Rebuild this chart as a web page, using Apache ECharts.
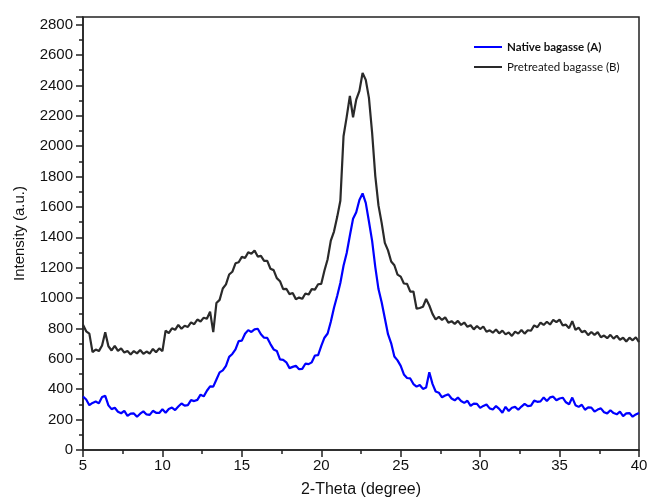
<!DOCTYPE html>
<html>
<head>
<meta charset="utf-8">
<script src="https://cdn.jsdelivr.net/npm/echarts@6/dist/echarts.min.js"></script>
<style>
  html, body { margin: 0; padding: 0; background: #fff; }
  #chart { width: 648px; height: 499px; }
</style>
</head>
<body>
<div id="chart"></div>
<script>
// 2-theta scan from 5 to 40 degrees, sampled every 0.2 degree
const thetaStart = 5
const thetaStep = 0.2

const xTicks = [5, 10, 15, 20, 25, 30, 35, 40]
const yTicks = [0, 200, 400, 600, 800, 1000, 1200, 1400, 1600, 1800, 2000, 2200, 2400, 2600, 2800]

const seriesNames = ['Native bagasse (A)', 'Pretreated bagasse (B)']

// Native bagasse (A)
const nativeA = [
  352, 332, 295, 310, 319, 307, 349, 356, 294, 269,
  278, 252, 242, 257, 225, 240, 241, 219, 239, 254,
  234, 231, 258, 245, 244, 268, 245, 270, 279, 263,
  286, 306, 292, 295, 328, 322, 330, 364, 353, 390,
  419, 417, 464, 511, 524, 554, 613, 632, 662, 717,
  720, 765, 789, 777, 794, 798, 762, 739, 738, 697,
  662, 652, 597, 593, 577, 539, 547, 554, 532, 534,
  568, 565, 577, 622, 625, 685, 739, 767, 844, 936,
  1014, 1099, 1213, 1297, 1412, 1522, 1565, 1645, 1689, 1627,
  1504, 1376, 1204, 1059, 973, 867, 762, 702, 615, 590,
  554, 497, 474, 471, 434, 417, 428, 402, 412, 512,
  435, 385, 377, 347, 359, 366, 339, 327, 345, 322,
  310, 324, 291, 305, 304, 277, 290, 299, 274, 267,
  289, 271, 245, 284, 257, 278, 284, 265, 286, 304,
  289, 292, 325, 317, 320, 346, 323, 346, 351, 327,
  339, 344, 314, 301, 345, 295, 284, 298, 265, 280,
  279, 253, 266, 274, 249, 241, 262, 243, 235, 252,
  223, 241, 243, 219, 234, 244
]

// Pretreated bagasse (B)
const pretreatedB = [
  824, 781, 766, 644, 661, 651, 688, 775, 683, 655,
  685, 653, 669, 641, 651, 629, 651, 636, 658, 633,
  648, 635, 665, 643, 669, 651, 786, 769, 801, 791,
  823, 798, 818, 810, 840, 828, 859, 846, 871, 864,
  911, 776, 968, 988, 1063, 1090, 1155, 1173, 1229, 1236,
  1271, 1264, 1301, 1291, 1313, 1273, 1278, 1245, 1245, 1193,
  1184, 1131, 1111, 1059, 1061, 1026, 1033, 993, 1003, 995,
  1030, 1023, 1059, 1056, 1091, 1094, 1181, 1256, 1378, 1438,
  1533, 1640, 2065, 2193, 2330, 2190, 2306, 2364, 2481, 2436,
  2318, 2088, 1803, 1610, 1495, 1363, 1314, 1241, 1216, 1154,
  1141, 1096, 1093, 1043, 1043, 930, 935, 943, 994, 951,
  896, 859, 876, 856, 873, 838, 848, 830, 850, 823,
  839, 811, 821, 794, 816, 796, 813, 778, 788, 772,
  793, 768, 786, 761, 774, 751, 779, 766, 790, 766,
  788, 785, 820, 808, 839, 823, 844, 826, 856, 841,
  858, 820, 825, 802, 848, 791, 806, 776, 784, 756,
  777, 758, 776, 742, 753, 736, 758, 733, 752, 726,
  739, 714, 739, 722, 742, 710
]

function toPairs(values) {
  return values.map((v, i) => [+(thetaStart + i * thetaStep).toFixed(1), v])
}

const chart = echarts.init(document.getElementById('chart'), null, { renderer: 'canvas' })

const axisFont = 'Liberation Sans, Arial, sans-serif'

const option = {
  animation: false,
  backgroundColor: '#fff',
  grid: {
    left: 83,
    right: 9,
    top: 17,
    bottom: 49,
    outerBoundsMode: 'none',
    show: true,
    borderColor: '#222',
    borderWidth: 1.5
  },
  legend: {
    orient: 'vertical',
    left: 469,
    top: 36,
    itemWidth: 28,
    itemHeight: 2,
    itemGap: 8,
    icon: 'rect',
    textStyle: {
      fontFamily: 'Lato, Open Sans, sans-serif',
      fontSize: 11.5,
      color: '#111'
    },
    data: [
      { name: seriesNames[0], textStyle: { fontWeight: 'bold' } },
      { name: seriesNames[1], textStyle: { fontWeight: 'normal' } }
    ]
  },
  xAxis: {
    type: 'value',
    min: xTicks[0],
    max: xTicks[xTicks.length - 1],
    interval: 5,
    name: '2-Theta (degree)',
    nameLocation: 'middle',
    nameGap: 32,
    nameTextStyle: { fontFamily: axisFont, fontSize: 16, color: '#111' },
    axisLine: { lineStyle: { color: '#222', width: 1.5 } },
    axisTick: { show: true, inside: false, length: 7, lineStyle: { color: '#222', width: 1.5 } },
    minorTick: { show: true, splitNumber: 2, length: 4, lineStyle: { color: '#222', width: 1.5 } },
    axisLabel: { fontFamily: axisFont, fontSize: 15, color: '#111', margin: 8 },
    splitLine: { show: false }
  },
  yAxis: {
    type: 'value',
    min: yTicks[0],
    max: 2850,
    interval: 200,
    name: 'Intensity (a.u.)',
    nameLocation: 'middle',
    nameGap: 56,
    nameTextStyle: { fontFamily: axisFont, fontSize: 15, color: '#111' },
    axisLine: { show: true, lineStyle: { color: '#222', width: 1.5 } },
    axisTick: { show: true, inside: false, length: 7, lineStyle: { color: '#222', width: 1.5 } },
    minorTick: { show: true, splitNumber: 2, length: 4, lineStyle: { color: '#222', width: 1.5 } },
    axisLabel: {
      fontFamily: axisFont,
      fontSize: 15,
      color: '#111',
      margin: 10,
      showMaxLabel: false,
      formatter: v => (yTicks.includes(v) ? String(v) : '')
    },
    splitLine: { show: false }
  },
  series: [
    {
      name: seriesNames[0],
      type: 'line',
      showSymbol: false,
      data: toPairs(nativeA),
      itemStyle: { color: '#0000ff' },
      lineStyle: { color: '#0000ff', width: 2.2 }
    },
    {
      name: seriesNames[1],
      type: 'line',
      showSymbol: false,
      data: toPairs(pretreatedB),
      itemStyle: { color: '#2a2a2a' },
      lineStyle: { color: '#2a2a2a', width: 2.2 }
    }
  ]
}

chart.setOption(option)

window.addEventListener('resize', () => {
  chart.resize()
})
</script>
</body>
</html>
